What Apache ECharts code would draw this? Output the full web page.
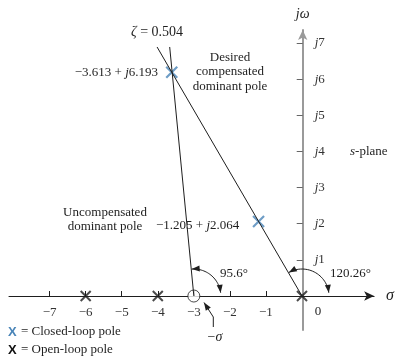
<!DOCTYPE html>
<html>
<head>
<meta charset="utf-8">
<script src="https://cdn.jsdelivr.net/npm/echarts@6/dist/echarts.min.js"></script>
<style>
  html, body { margin: 0; padding: 0; background: #fff; }
  #chart { width: 397px; height: 357px; }
</style>
</head>
<body>
<div id="chart"></div>
<script>
// s-plane values
var sigmaTicks = [-7, -6, -5, -4, -3, -2, -1];
var omegaTicks = [1, 2, 3, 4, 5, 6, 7];
var closedLoopPoles = [[-3.613, 6.193], [-1.205, 2.064]];
var openLoopPoles = [[-6, 0], [-4, 0], [0, 0]];
var compZero = [[-3, 0]];
var zetaLine = [[0, 0], [-4.02, 6.89]];
var compLine = [[-3, 0], [-3.67, 6.89]];
var angleMarks = [[-3, 95.6], [0, 120.26]];   // vertex sigma, angle in degrees

var serif = '"Liberation Serif", "Times New Roman", serif';
var sans = '"Liberation Sans", Arial, sans-serif';
var ink = '#1e1e1e';
var blue = '#4a85b8';
var crossPath = 'path://M0,0L10,10M10,0L0,10';

// grid + ranges, axes are shifted onto the zero lines with offset
var xMin = -8.127, xMax = 2, yMin = -0.94, yMax = 7.36;
var gLeft = 9, gRight = 22, gTop = 30, gBottom = 27;
var gW = 397 - gLeft - gRight, gH = 357 - gTop - gBottom;
var xOffset = -gH * (0 - yMin) / (yMax - yMin);
var yOffset = -gW * (0 - xMin) / (xMax - xMin);

function rich(size) {
  return {
    i: { fontStyle: 'italic', fontSize: size, fontFamily: serif, fill: ink }
  };
}

function minus(v) {
  return (v < 0 ? '\u2212' : '') + Math.abs(v);
}

// little filled arrow head, d = unit direction of travel (pixels)
function arrowHead(tip, d) {
  var L = 8, w = 3;
  var bx = tip[0] - d[0] * L, by = tip[1] - d[1] * L;
  return [tip, [bx - d[1] * w, by + d[0] * w], [bx + d[1] * w, by - d[0] * w]];
}

function renderAngle(params, api) {
  var c = api.coord([api.value(0), 0]);
  var r = 27;
  var a0 = (api.value(1) - 1) * Math.PI / 180;
  var a1 = 7 * Math.PI / 180;
  var pts = [];
  for (var i = 0; i <= 30; i++) {
    var a = a0 + (a1 - a0) * i / 30;
    pts.push([c[0] + r * Math.cos(a), c[1] - r * Math.sin(a)]);
  }
  return {
    type: 'group',
    children: [
      { type: 'polyline', shape: { points: pts }, style: { stroke: ink, fill: null, lineWidth: 1 } },
      { type: 'polygon', shape: { points: arrowHead(pts[0], [-Math.sin(a0), -Math.cos(a0)]) }, style: { fill: ink } },
      { type: 'polygon', shape: { points: arrowHead(pts[30], [Math.sin(a1), Math.cos(a1)]) }, style: { fill: ink } }
    ]
  };
}

function txt(x, y, text, align, size) {
  size = size || 13;
  return {
    type: 'text', x: x, y: y, silent: true,
    style: {
      text: text, fontSize: size, fontFamily: serif, fill: ink,
      textAlign: align, textVerticalAlign: 'middle', rich: rich(size)
    }
  };
}

var ptrDir = [-0.54, -0.84];
var ptrTip = [204, 302.5];

var chart = echarts.init(document.getElementById('chart'));
var option = {
  backgroundColor: '#fff',
  animation: false,
  grid: { left: gLeft, right: gRight, top: gTop, bottom: gBottom },
  xAxis: {
    type: 'value',
    min: xMin,
    max: xMax,
    position: 'bottom',
    offset: xOffset,
    name: '{i|σ}',
    nameLocation: 'end',
    nameGap: 12,
    nameTextStyle: { rich: { i: { fontStyle: 'italic', fontSize: 16, fontFamily: serif, color: ink } } },
    splitLine: { show: false },
    axisLine: {
      onZero: false,
      symbol: ['none', 'arrow'],
      symbolSize: [7, 10],
      lineStyle: { color: ink, width: 1 }
    },
    axisTick: { customValues: sigmaTicks, inside: true, length: 5, lineStyle: { color: ink } },
    axisLabel: {
      customValues: sigmaTicks,
      margin: 10,
      color: '#333',
      fontSize: 13,
      fontFamily: serif,
      formatter: minus
    }
  },
  yAxis: {
    type: 'value',
    min: yMin,
    max: yMax,
    position: 'left',
    offset: yOffset,
    name: '{i|jω}',
    nameLocation: 'end',
    nameGap: 9,
    nameTextStyle: { align: 'center', rich: { i: { fontStyle: 'italic', fontSize: 14, fontFamily: serif, color: ink } } },
    splitLine: { show: false },
    axisLine: {
      onZero: false,
      symbol: ['none', 'arrow'],
      symbolSize: [7, 10],
      lineStyle: { color: '#9a9a9a', width: 2 }
    },
    axisTick: { customValues: omegaTicks, length: 6, lineStyle: { color: '#666' } },
    axisLabel: {
      customValues: omegaTicks,
      inside: true,
      margin: 12,
      color: '#333',
      fontSize: 13,
      fontFamily: serif,
      formatter: function (v) { return '{i|j}' + v; },
      rich: { i: { fontStyle: 'italic', fontSize: 13, fontFamily: serif, color: '#333' } }
    }
  },
  series: [
    {
      type: 'line', data: zetaLine, symbol: 'none', silent: true,
      lineStyle: { color: ink, width: 1 }
    },
    {
      type: 'line', data: compLine, symbol: 'none', silent: true,
      lineStyle: { color: ink, width: 1 }
    },
    {
      type: 'custom', data: angleMarks, renderItem: renderAngle, silent: true
    },
    {
      type: 'scatter', data: closedLoopPoles, symbol: crossPath, symbolSize: 11, silent: true,
      itemStyle: { color: 'rgba(0,0,0,0)', borderColor: blue, borderWidth: 2.2 }
    },
    {
      type: 'scatter', data: openLoopPoles, symbol: crossPath, symbolSize: 10, silent: true,
      itemStyle: { color: 'rgba(0,0,0,0)', borderColor: ink, borderWidth: 2 }
    },
    {
      type: 'scatter', data: compZero, symbol: 'circle', symbolSize: 12, silent: true,
      itemStyle: { color: '#fff', borderColor: ink, borderWidth: 1 }
    }
  ],
  graphic: [
    txt(157, 32.5, '{i|ζ} = 0.504', 'center', 14),
    txt(158, 73, '\u22123.613 + {i|j}6.193', 'right'),
    txt(230, 57.5, 'Desired', 'center'),
    txt(230, 72, 'compensated', 'center'),
    txt(230, 86.5, 'dominant pole', 'center'),
    txt(350, 151.5, '{i|s}-plane', 'left'),
    txt(105, 213, 'Uncompensated', 'center'),
    txt(105, 227, 'dominant pole', 'center'),
    txt(156, 225.5, '\u22121.205 + {i|j}2.064', 'left'),
    txt(220, 273.5, '95.6°', 'left'),
    txt(330, 273.5, '120.26°', 'left'),
    txt(318, 312, '0', 'center'),
    txt(215, 337, '\u2212{i|σ}', 'center', 14),
    {
      type: 'polyline', silent: true,
      shape: { points: [[213.3, 327], [213.3, 317], ptrTip] },
      style: { stroke: ink, fill: null, lineWidth: 1 }
    },
    {
      type: 'polygon', silent: true,
      shape: { points: arrowHead(ptrTip, ptrDir) },
      style: { fill: ink }
    },
    {
      type: 'text', x: 8, y: 332, silent: true,
      style: { text: 'X', fontSize: 13, fontFamily: sans, fontWeight: 'bold', fill: blue, textVerticalAlign: 'middle' }
    },
    txt(21, 332, '= Closed-loop pole', 'left'),
    {
      type: 'text', x: 8, y: 350, silent: true,
      style: { text: 'X', fontSize: 13, fontFamily: sans, fontWeight: 'bold', fill: '#111', textVerticalAlign: 'middle' }
    },
    txt(21, 350, '= Open-loop pole', 'left')
  ]
};
chart.setOption(option);
</script>
</body>
</html>
